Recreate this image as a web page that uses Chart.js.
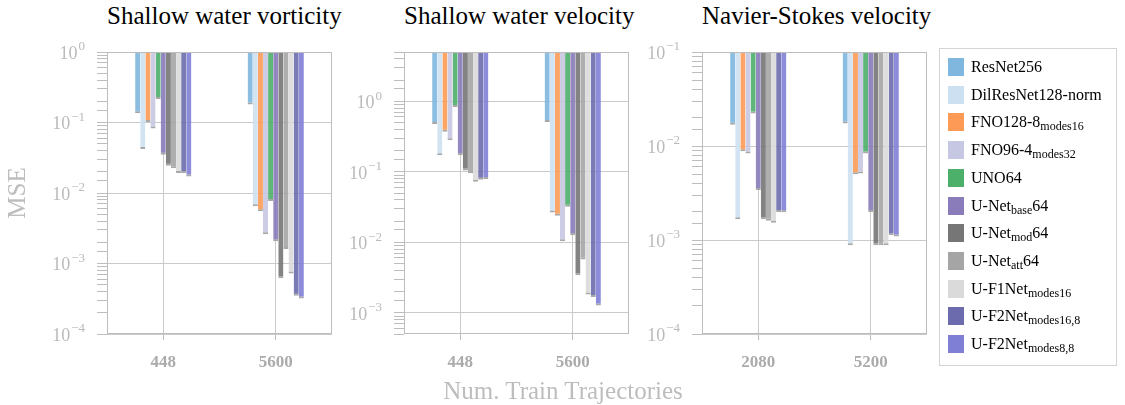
<!DOCTYPE html>
<html>
<head>
<meta charset="utf-8">
<script src="https://cdn.jsdelivr.net/npm/chart.js@4.4.1/dist/chart.umd.min.js"></script>
<style>
  body { margin: 0; width: 1125px; height: 405px; background: #fff; position: relative; overflow: hidden; font-family: "Liberation Serif", serif; }
  canvas { position: absolute; top: 0; }
  .title { position: absolute; top: 1px; width: 225px; text-align: center; font-size: 25px; line-height: 30px; color: #000; white-space: nowrap; }
  .axis-title { position: absolute; color: #bdbdbd; font-size: 25px; line-height: 30px; white-space: nowrap; }
  #ylab { left: -10px; top: 178px; width: 54px; text-align: center; transform: rotate(-90deg); }
  #xlab { left: 363px; top: 376px; width: 400px; text-align: center; }
  #legend { position: absolute; left: 939px; top: 48px; width: 178px; height: 318px; border: 1px solid #d4d4d4; box-sizing: border-box; }
  .item { position: absolute; left: 8px; height: 18px; }
  .swatch { position: absolute; left: 0; top: 0; width: 16px; height: 18px; }
  .name { position: absolute; left: 23px; top: -1px; font-size: 16px; line-height: 20px; color: #000; white-space: nowrap; }
  .name sub { font-size: 12px; vertical-align: -3px; line-height: 0; }
</style>
</head>
<body>
<div class="title" style="left:107px">Shallow water vorticity</div>
<div class="title" style="left:404px">Shallow water velocity</div>
<div class="title" style="left:702px">Navier-Stokes velocity</div>

<canvas id="vort" width="340" height="405" style="left:0px"></canvas>
<canvas id="velo" width="340" height="405" style="left:300px"></canvas>
<canvas id="ns" width="340" height="405" style="left:600px"></canvas>

<div id="ylab" class="axis-title">MSE</div>
<div id="xlab" class="axis-title">Num. Train Trajectories</div>
<div id="legend"></div>

<script>
// model names (plain text + subscript part)
const models = ['ResNet256', 'DilResNet128-norm', 'FNO128-8', 'FNO96-4', 'UNO64', 'U-Net', 'U-Net', 'U-Net', 'U-F1Net', 'U-F2Net', 'U-F2Net'];
const modelSubs = ['', '', 'modes16', 'modes32', '', 'base', 'mod', 'att', 'modes16', 'modes16,8', 'modes8,8'];
const modelTails = ['', '', '', '', '', '64', '64', '64', '', '', ''];
const colors = ['#7fb7de', '#cde0f1', '#fd9b56', '#c6c7e2', '#4caf6a', '#8a7cba', '#767676', '#a5a5a5', '#dadada', '#6b6bad', '#7f7fd6'];

// shallow water vorticity
const vortLabels = ['448', '5600'];
const vort448 = [0.135, 0.042, 0.102, 0.082, 0.216, 0.035, 0.0244, 0.0224, 0.0192, 0.0192, 0.0171];
const vort5600 = [0.18, 0.0065, 0.0055, 0.0026, 0.0077, 0.00206, 0.00062, 0.0016, 0.00072, 0.00035, 0.00032];

// shallow water velocity
const veloLabels = ['448', '5600'];
const velo448 = [0.475, 0.172, 0.371, 0.28, 0.83, 0.172, 0.104, 0.095, 0.072, 0.077, 0.079];
const velo5600 = [0.51, 0.0265, 0.0238, 0.0103, 0.032, 0.0126, 0.0034, 0.0057, 0.00182, 0.00167, 0.00127];

// navier-stokes velocity
const nsLabels = ['2080', '5200'];
const ns2080 = [0.0168, 0.00166, 0.0088, 0.0083, 0.0222, 0.0034, 0.00166, 0.0016, 0.00153, 0.00199, 0.00197];
const ns5200 = [0.0173, 0.00088, 0.0050, 0.0051, 0.0083, 0.00199, 0.00088, 0.00088, 0.00088, 0.00112, 0.00109];

// y ranges [min, max]
const vortRange = [1e-4, 1];
const veloRange = [5e-4, 5];
const nsRange = [1e-4, 1e-1];

function isDecade(v) {
  const e = Math.log10(v);
  return Math.abs(e - Math.round(e)) < 1e-6;
}

function withAlpha(hex, a) {
  const n = parseInt(hex.slice(1), 16);
  return `rgba(${n >> 16}, ${(n >> 8) & 255}, ${n & 255}, ${a})`;
}

// box around the plot + "10^n" labels with raised exponent
const frameAndLabels = {
  id: 'frameAndLabels',
  afterDraw(chart) {
    const { ctx, chartArea: a, scales: { y } } = chart;
    ctx.save();
    ctx.strokeStyle = '#bdbdbd';
    ctx.lineWidth = 1;
    ctx.strokeRect(Math.round(a.left) + 0.5, Math.round(a.top) + 0.5,
      Math.round(a.right - a.left) - 1, Math.round(a.bottom - a.top) - 1);

    ctx.fillStyle = '#bababa';
    ctx.textBaseline = 'middle';
    ctx.textAlign = 'right';
    const right = a.left - 22;
    y.ticks.forEach(t => {
      if (!isDecade(t.value)) return;
      const py = y.getPixelForValue(t.value);
      const exp = String(Math.round(Math.log10(t.value))).replace('-', '\u2212');
      ctx.font = '13px "Liberation Serif"';
      const ew = ctx.measureText(exp).width;
      ctx.fillText(exp, right, py - 5);
      ctx.font = '18px "Liberation Serif"';
      ctx.fillText('10', right - ew - 1, py + 2);
    });
    ctx.restore();
  }
};

function makePanel(id, labels, first, second, range, axisWidth, rightPad) {
  const datasets = models.map((m, i) => ({
    label: m + modelSubs[i] + modelTails[i],
    data: [first[i], second[i]],
    base: range[1],
    backgroundColor: withAlpha(colors[i], 0.9),
    borderColor: '#a8a8a8',
    borderWidth: { top: 0, left: 0, right: 0, bottom: 2 },
    borderSkipped: false,
    categoryPercentage: 0.5,
    barPercentage: 1.0
  }));

  return new Chart(document.getElementById(id), {
    type: 'bar',
    data: { labels: labels, datasets: datasets },
    options: {
      responsive: false,
      animation: false,
      layout: { padding: { top: 52, right: rightPad, bottom: 0, left: 0 } },
      plugins: { legend: { display: false }, tooltip: { enabled: false } },
      scales: {
        x: {
          grid: { offset: false, color: '#cacaca', tickColor: '#bdbdbd', tickLength: 6 },
          border: { display: false },
          ticks: { color: '#ababab', padding: 12, font: { family: 'Liberation Serif', size: 17, weight: 'bold' } },
          afterFit(s) { s.height = 71; }
        },
        y: {
          type: 'logarithmic',
          min: range[0],
          max: range[1],
          grid: {
            color: c => (c.tick && isDecade(c.tick.value)) ? '#cacaca' : 'rgba(0,0,0,0)',
            tickColor: '#bdbdbd',
            tickLength: 10
          },
          border: { display: false },
          ticks: { display: false, autoSkip: false },
          afterFit(s) { s.width = axisWidth; }
        }
      }
    },
    plugins: [frameAndLabels]
  });
}

makePanel('vort', vortLabels, vort448, vort5600, vortRange, 107, 8);
makePanel('velo', veloLabels, velo448, velo5600, veloRange, 104, 11);
makePanel('ns', nsLabels, ns2080, ns5200, nsRange, 102, 13);

// legend with subscripted model names
const legend = document.getElementById('legend');
models.forEach((m, i) => {
  const item = document.createElement('div');
  item.className = 'item';
  item.style.top = (9 + i * 27.7) + 'px';
  const sub = modelSubs[i] ? `<sub>${modelSubs[i]}</sub>` : '';
  item.innerHTML = `<div class="swatch" style="background:${colors[i]}"></div>` +
    `<div class="name">${m}${sub}${modelTails[i]}</div>`;
  legend.appendChild(item);
});
</script>
</body>
</html>
